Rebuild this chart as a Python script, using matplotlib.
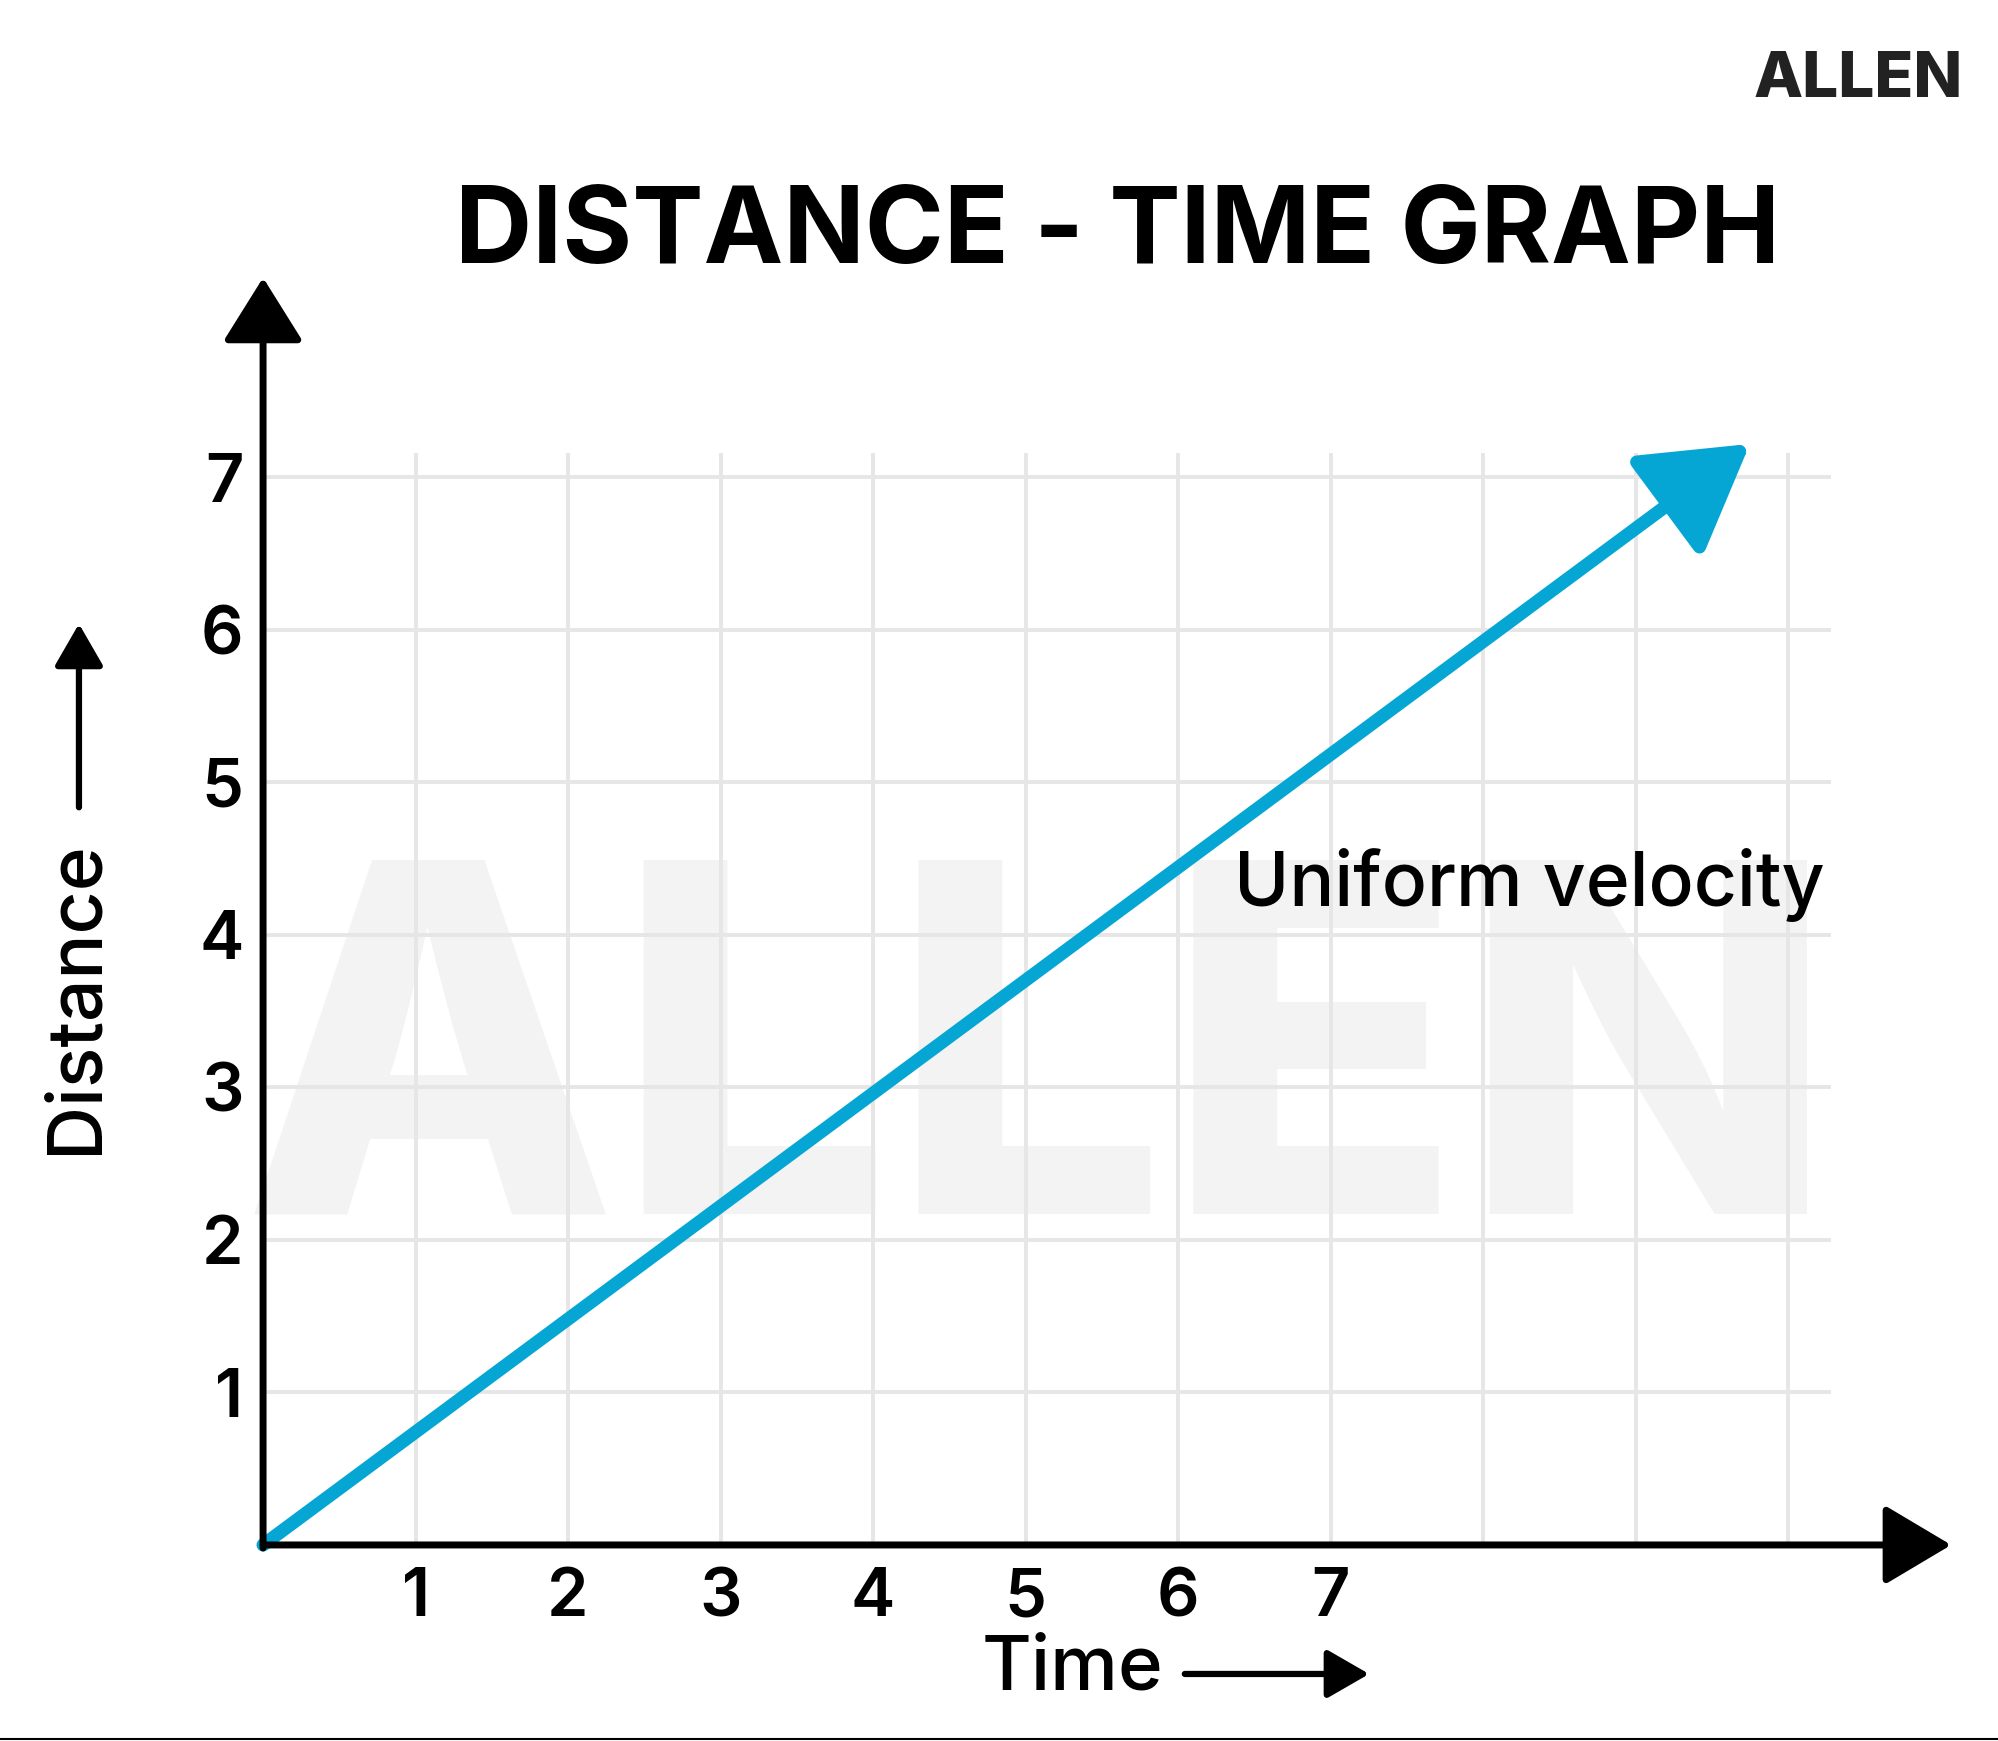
import matplotlib
matplotlib.use("Agg")
import matplotlib.pyplot as plt
from matplotlib.lines import Line2D
from matplotlib.patches import FancyArrowPatch

plt.rcParams['font.family'] = ['Inter', 'DejaVu Sans']

# data
time_ticks = [1, 2, 3, 4, 5, 6, 7]
distance_ticks = [1, 2, 3, 4, 5, 6, 7]
grid_time = [1, 2, 3, 4, 5, 6, 7, 8, 9, 10]
grid_distance = [1, 2, 3, 4, 5, 6, 7]
line_time = [0, 9.75]
line_distance = [0, 7.22]

blue = '#06A6D4'

fig = plt.figure(figsize=(19.99, 17.41), dpi=100)
ax = fig.add_axes([0.1316, 0.1126, 0.8445, 0.7279])
ax.set_xlim(0, 11.07)
ax.set_ylim(0, 8.31)
for s in ax.spines.values():
    s.set_visible(False)

# watermark
ax.text(5.09, 3.01, 'ALLEN', fontsize=350, fontweight='heavy', color='#f3f3f3',
        ha='center', va='center', zorder=0)

# grid
ax.vlines(grid_time, 0, 7.16, color='#e6e6e6', lw=2.8, zorder=1)
ax.hlines(grid_distance, 0, 10.28, color='#e6e6e6', lw=2.8, zorder=1)

# uniform velocity line
ax.annotate('', xy=(line_time[1], line_distance[1]), xytext=(line_time[0], line_distance[0]),
            arrowprops=dict(arrowstyle='-|>,head_length=64,head_width=38', mutation_scale=1,
                            lw=9.5, color=blue, shrinkA=0, shrinkB=0),
            zorder=3)

# axes with arrows
ax.annotate('', xy=(11.07, 0), xytext=(0, 0), annotation_clip=False,
            arrowprops=dict(arrowstyle='-|>,head_length=42,head_width=25', mutation_scale=1,
                            lw=5, color='black', shrinkA=0, shrinkB=0), zorder=4)
ax.annotate('', xy=(0, 8.31), xytext=(0, -0.02), annotation_clip=False,
            arrowprops=dict(arrowstyle='-|>,head_length=40,head_width=25', mutation_scale=1,
                            lw=5, color='black', shrinkA=0, shrinkB=0), zorder=4)

ax.set_xticks(time_ticks)
ax.set_xticklabels([str(t) for t in time_ticks])
ax.set_yticks(distance_ticks)
ax.set_yticklabels([str(d) for d in distance_ticks])
ax.tick_params(axis='x', length=0, pad=16, labelsize=48)
ax.tick_params(axis='y', length=0, pad=14, labelsize=48)
for lab in ax.get_xticklabels() + ax.get_yticklabels():
    lab.set_fontweight('semibold')

ax.text(6.37, 4.19, 'Uniform velocity', fontsize=54, fontweight='medium',
        ha='left', va='baseline', zorder=5)

# titles and axis names
fig.text(0.559, 0.865, 'DISTANCE - TIME GRAPH', fontsize=77, fontweight='bold',
         ha='center', va='center')
fig.text(0.9296, 0.954, 'ALLEN', fontsize=46, fontweight='heavy', color='#222222',
         ha='center', va='center')

fig.text(0.0385, 0.4273, 'Distance', fontsize=54, fontweight='medium', rotation=90,
         ha='center', va='center')
fig.add_artist(FancyArrowPatch(
    (0.0395, 0.5347), (0.0395, 0.6433), transform=fig.transFigure,
    arrowstyle='-|>,head_length=26,head_width=15', mutation_scale=1, lw=4.5, color='black'))

fig.text(0.5363, 0.0408, 'Time', fontsize=55, fontweight='medium', ha='center', va='center')
fig.add_artist(FancyArrowPatch(
    (0.5913, 0.0385), (0.6863, 0.0385), transform=fig.transFigure,
    arrowstyle='-|>,head_length=26,head_width=15', mutation_scale=1, lw=4.5, color='black'))

fig.add_artist(Line2D([0, 1], [0.0012, 0.0012], transform=fig.transFigure, color='black', lw=1.5))

fig.savefig('out.png', dpi=100, facecolor='white')
